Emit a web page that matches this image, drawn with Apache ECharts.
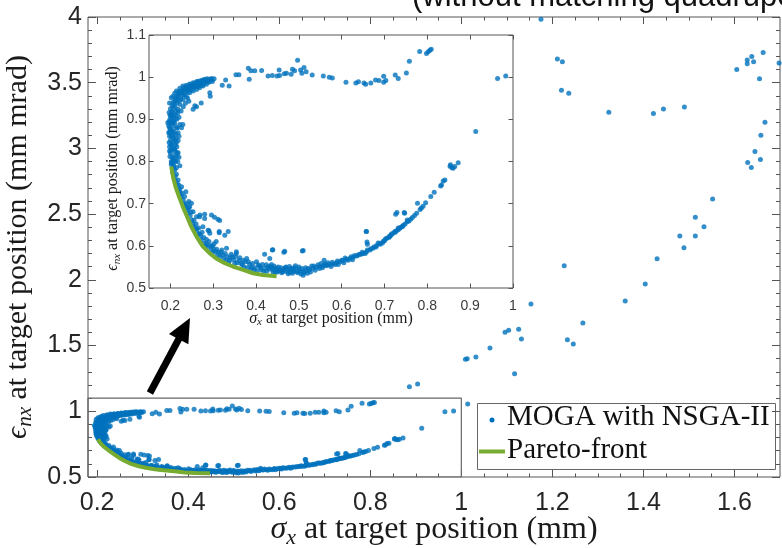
<!DOCTYPE html>
<html>
<head>
<meta charset="utf-8">
<script src="https://cdn.jsdelivr.net/npm/echarts@6/dist/echarts.min.js"></script>
<style>
  html, body { margin: 0; padding: 0; background: #fff; }
  #chart { width: 782px; height: 548px; }
</style>
</head>
<body>
<div id="chart"></div>
<script>
// ---- MOGA (NSGA-II) solutions: [sigma_x (mm), eps_nx (mm mrad)] ----
const mogaLeftArc = [
  [0.194,0.892],[0.197,0.916],[0.198,0.939],[0.202,0.951],[0.206,0.955],[0.210,0.962],[0.214,0.967],[0.222,0.974],[0.229,0.979],[0.237,0.981],[0.245,0.984],[0.253,0.987],[0.261,0.989],[0.268,0.991],[0.276,0.993],[0.284,0.994],[0.292,0.995],[0.302,0.996],
  [0.200,0.876],[0.202,0.860],[0.205,0.892],[0.208,0.908],[0.210,0.900],[0.214,0.920],[0.218,0.924],[0.222,0.936],[0.229,0.947],[0.237,0.955],[0.245,0.963],[0.253,0.967],[0.261,0.971],[0.268,0.975],[0.276,0.979],[0.284,0.983],
  [0.201,0.908],[0.204,0.932],[0.210,0.943],[0.218,0.955],[0.226,0.963],[0.233,0.970],[0.241,0.975],[0.249,0.979],[0.257,0.981],[0.265,0.983],
  [0.222,0.888],[0.226,0.880],[0.229,0.888],[0.218,0.868],[0.214,0.845],[0.210,0.829],[0.218,0.821],[0.206,0.805],[0.202,0.793],[0.197,0.845],[0.198,0.825],[0.198,0.860],[0.196,0.868],
  [0.257,0.932],[0.261,0.930],[0.272,0.939],[0.292,0.963],[0.293,0.955],[0.280,0.995],[0.296,0.993],[0.253,0.924],[0.243,0.943],
  [0.199,0.900],[0.200,0.925],[0.203,0.918],[0.206,0.940],[0.207,0.925],[0.212,0.950],[0.216,0.940],[0.220,0.960],[0.224,0.948],[0.228,0.968],[0.232,0.958],[0.236,0.972],[0.240,0.965],[0.244,0.977],[0.248,0.970],[0.252,0.980],[0.256,0.976],[0.260,0.985],[0.264,0.978],[0.270,0.986],[0.272,0.980],[0.280,0.988],[0.288,0.990],[0.296,0.997],
  [0.212,0.910],[0.215,0.900],[0.216,0.880],[0.220,0.905],[0.225,0.920],[0.230,0.930],[0.235,0.938],[0.240,0.950],
  [0.198,0.880],[0.199,0.910],[0.201,0.890],[0.202,0.870],[0.204,0.895],[0.205,0.915],[0.206,0.885],[0.208,0.895],[0.209,0.935],[0.211,0.930],[0.213,0.945],[0.215,0.955],[0.217,0.915],[0.219,0.965],[0.221,0.945],[0.223,0.967],
  [0.227,0.957],[0.231,0.975],[0.234,0.965],[0.238,0.977],[0.242,0.970],[0.246,0.982],[0.250,0.974],[0.255,0.985],[0.258,0.978],[0.263,0.990],[0.267,0.983],[0.273,0.992],[0.278,0.985],[0.286,0.996],[0.290,0.988],[0.298,0.990]
];
const mogaLeftColumn = [
  [0.196,0.885],[0.198,0.870],[0.200,0.850],[0.201,0.840],[0.203,0.830],[0.200,0.820],[0.204,0.810],[0.202,0.800],[0.206,0.795],[0.210,0.850],[0.212,0.840],[0.208,0.830],[0.215,0.835],[0.210,0.815],
  [0.214,0.810],[0.218,0.850],[0.220,0.860],[0.205,0.875],[0.210,0.890],[0.215,0.880],[0.212,0.865],[0.207,0.855],[0.197,0.895],[0.203,0.905],[0.198,0.835],[0.208,0.790],[0.205,0.845],[0.209,0.870],
  [0.199,0.812],[0.201,0.826],[0.204,0.838],[0.206,0.862],[0.211,0.825],[0.213,0.855],[0.216,0.820],[0.203,0.797],[0.209,0.803],[0.212,0.800],[0.217,0.800],[0.220,0.810],[0.222,0.790],[0.214,0.785]
];
const mogaLowerLeft = [
  [0.207,0.785],[0.211,0.765],[0.216,0.745],[0.223,0.722],[0.232,0.700],[0.241,0.677],[0.252,0.652],[0.264,0.630],[0.279,0.607],[0.295,0.590],[0.310,0.578],[0.330,0.566],[0.350,0.558],[0.372,0.550],[0.395,0.543],[0.418,0.539],[0.440,0.537],[0.460,0.536],
  [0.210,0.780],[0.218,0.756],[0.226,0.740],[0.233,0.717],[0.245,0.693],[0.261,0.669],[0.276,0.645],[0.292,0.630],[0.307,0.610],[0.331,0.594],[0.354,0.582],[0.378,0.570],[0.401,0.562],[0.424,0.555],[0.448,0.547],
  [0.214,0.770],[0.222,0.735],[0.236,0.690],[0.256,0.645],[0.270,0.625],[0.285,0.605],[0.300,0.595],[0.318,0.585],[0.340,0.572],[0.360,0.565],[0.385,0.556],[0.410,0.548],[0.430,0.545],[0.455,0.542],
  [0.298,0.600],[0.305,0.587],[0.322,0.578],[0.338,0.565],[0.345,0.574],[0.365,0.558],[0.375,0.562],[0.390,0.550],[0.405,0.555],[0.420,0.547],[0.435,0.550],[0.450,0.538],[0.465,0.545],[0.470,0.550],[0.480,0.545],[0.490,0.548],[0.500,0.550],[0.485,0.535],
  [0.236,0.728],[0.243,0.705],[0.249,0.701],[0.253,0.681],[0.268,0.669],[0.280,0.665],[0.296,0.673],[0.303,0.668],[0.311,0.663],[0.315,0.660],[0.290,0.636],[0.314,0.634],[0.335,0.634],[0.354,0.586],[0.420,0.580],[0.432,0.570],
  [0.269,0.673],[0.280,0.675],[0.288,0.637],[0.314,0.631],[0.327,0.625],[0.439,0.591],[0.467,0.587],[0.510,0.589],[0.657,0.634],[0.659,0.609],[0.729,0.679],[0.746,0.679],
  [0.205,0.775],[0.209,0.758],[0.213,0.752],[0.217,0.733],[0.219,0.745],[0.221,0.728],[0.225,0.715],[0.227,0.725],[0.230,0.708],[0.234,0.695],[0.238,0.700],[0.240,0.685],[0.243,0.690],[0.246,0.672],
  [0.248,0.680],[0.250,0.662],[0.255,0.660],[0.258,0.640],[0.260,0.652],[0.262,0.640],[0.266,0.642],[0.268,0.628],[0.272,0.615],[0.274,0.632],[0.278,0.620],[0.282,0.600],[0.284,0.615],[0.288,0.598],
  [0.290,0.610],[0.294,0.600],[0.300,0.585],[0.302,0.605],[0.308,0.592],[0.312,0.585],[0.316,0.575],[0.320,0.590],[0.325,0.570],[0.328,0.582],[0.333,0.575],[0.336,0.560],[0.342,0.580],[0.348,0.567],
  [0.352,0.575],[0.356,0.560],[0.362,0.572],[0.368,0.555],[0.370,0.566],[0.380,0.548],[0.382,0.562],[0.388,0.545],[0.392,0.558],[0.398,0.548],[0.402,0.540],[0.408,0.552],[0.412,0.543],[0.415,0.556],
  [0.425,0.540],[0.428,0.550],[0.438,0.543],[0.442,0.552],[0.458,0.548],[0.462,0.540]
];
const mogaBottomBand = [
  [0.432,0.551],[0.440,0.547],[0.448,0.543],[0.455,0.541],[0.463,0.539],[0.471,0.539],[0.479,0.537],[0.486,0.539],[0.494,0.539],[0.502,0.540],[0.510,0.540],[0.518,0.541],[0.525,0.543],[0.533,0.547],
  [0.541,0.549],[0.549,0.551],[0.557,0.552],[0.564,0.555],[0.572,0.556],[0.580,0.557],[0.588,0.560],[0.596,0.562],[0.603,0.565],[0.611,0.568],[0.619,0.570],[0.627,0.573],[0.635,0.576],[0.642,0.580],
  [0.650,0.582],[0.658,0.586],[0.666,0.590],[0.673,0.594],[0.681,0.600],[0.689,0.606],[0.697,0.611],[0.705,0.618],[0.712,0.623],[0.720,0.630],[0.728,0.636],[0.736,0.642],
  [0.436,0.556],[0.452,0.550],[0.468,0.548],[0.484,0.547],[0.500,0.545],[0.516,0.548],[0.530,0.552],[0.545,0.555],[0.560,0.557],[0.445,0.538],[0.475,0.534],[0.505,0.533],[0.520,0.535],
  [0.565,0.553],[0.585,0.556],[0.600,0.566],[0.615,0.566],[0.630,0.577],[0.645,0.580],[0.660,0.590],[0.675,0.597],[0.690,0.604],[0.700,0.612],[0.710,0.620],
  [0.438,0.590],[0.465,0.585],[0.508,0.588],[0.559,0.566],[0.658,0.634],[0.660,0.604],[0.510,0.530],
  [0.475,0.543],[0.478,0.551],[0.488,0.543],[0.492,0.553],[0.497,0.536],[0.508,0.546],[0.512,0.536],[0.522,0.546],[0.527,0.538],[0.535,0.552],[0.538,0.542],[0.548,0.546],[0.552,0.558],[0.555,0.548],
  [0.568,0.560],[0.575,0.551],[0.578,0.561],[0.590,0.564],[0.592,0.556],[0.605,0.560],[0.608,0.571],[0.622,0.574],[0.625,0.567],[0.638,0.578],[0.648,0.585],[0.655,0.582],[0.668,0.593],[0.680,0.597],
  [0.685,0.607],[0.695,0.607],[0.702,0.616],[0.715,0.625],[0.725,0.632],[0.732,0.642],[0.742,0.646],[0.748,0.652],[0.757,0.659],[0.765,0.667],[0.770,0.672],[0.783,0.686],[0.786,0.690]
];
const mogaRightRise = [
  [0.853,0.789],[0.857,0.786],[0.860,0.784],[0.864,0.788],[0.872,0.797],[0.837,0.754],[0.841,0.756],[0.833,0.744],[0.831,0.742],[0.816,0.727],[0.808,0.717],[0.796,0.702],[0.790,0.694],[0.777,0.701],
  [0.775,0.677],[0.761,0.663],[0.753,0.661],[0.753,0.657],[0.747,0.677],[0.726,0.675],[0.744,0.649],[0.740,0.645],[0.736,0.642],[0.732,0.638],[0.724,0.634],[0.716,0.628],[0.712,0.623],
  [0.854,0.792],[0.913,0.871]
];
const mogaTopBranch = [
  [0.321,0.981],[0.329,0.993],[0.337,0.979],[0.353,1.006],[0.360,1.006],[0.384,0.995],[0.382,1.021],[0.388,1.015],[0.397,1.015],[0.413,1.016],[0.428,1.003],
  [0.438,1.004],[0.449,1.003],[0.454,1.017],[0.455,1.004],[0.466,1.008],[0.471,1.009],[0.482,1.007],[0.485,1.019],[0.490,1.015],[0.497,1.040],[0.504,1.017],[0.507,1.009],[0.512,1.023],[0.517,1.013],
  [0.531,1.005],[0.557,1.003],[0.571,1.000],[0.578,0.998],[0.610,0.988],[0.633,0.986],[0.639,0.989],[0.652,0.986],[0.656,0.983],[0.668,0.986],[0.679,0.993],[0.687,0.992],[0.698,1.002],[0.698,0.988],
  [0.703,0.992],[0.725,1.005],[0.732,0.997],[0.751,1.010],[0.758,1.038],[0.782,1.061],[0.798,1.056],[0.802,1.060],[0.806,1.064],[0.809,1.066],[0.964,0.997],[0.983,1.003]
];
const mogaFarField = [
  [1.175,3.983],[1.211,3.680],[1.222,3.660],[1.220,3.443],[1.236,3.420],[1.324,3.275],[1.422,3.265],[1.444,3.300],[1.490,3.316],[1.605,3.600],[1.628,3.673],[1.628,3.645],[1.638,3.700],
  [1.642,3.660],[1.663,3.730],[1.655,3.530],[1.698,3.650],[1.667,3.200],[1.658,3.100],[1.645,2.976],[1.629,2.892],[1.637,2.854],[1.657,2.915],[1.552,2.616],[1.514,2.476],[1.533,2.405],
  [1.480,2.334],[1.514,2.334],[1.489,2.245],[1.430,2.161],[1.404,1.969],[1.360,1.839],[1.226,2.108],[1.267,1.672],[1.233,1.545],[1.246,1.512],[1.153,1.817],[1.126,1.624],[1.132,1.550],
  [1.104,1.616],[1.096,1.601],[1.063,1.482],[1.032,1.413],[1.013,1.400],[1.009,1.396],[1.117,1.286],[0.886,1.187],[0.904,1.208],[1.014,1.056]
];

// ---- Pareto front ----
const paretoFront = [
  [0.202,0.788],[0.206,0.764],[0.212,0.740],[0.220,0.717],[0.229,0.693],[0.239,0.669],[0.249,0.645],[0.261,0.622],[0.276,0.598],
  [0.292,0.582],[0.307,0.570],[0.327,0.559],[0.346,0.551],[0.370,0.543],[0.393,0.535],[0.416,0.531],[0.448,0.528]
];

// ---- axis limits and ticks ----
const mainXRange = [0.18, 1.7];
const mainYRange = [0.5, 4];
const mainXTicks = [0.2, 0.4, 0.6, 0.8, 1, 1.2, 1.4, 1.6];
const mainXMinor = [0.2,0.25,0.3,0.35,0.4,0.45,0.5,0.55,0.6,0.65,0.7,0.75,0.8,0.85,0.9,0.95,1,1.05,1.1,1.15,1.2,1.25,1.3,1.35,1.4,1.45,1.5,1.55,1.6,1.65];
const mainYTicks = [0.5, 1, 1.5, 2, 2.5, 3, 3.5, 4];
const mainYMinor = [0.6,0.7,0.8,0.9,1.1,1.2,1.3,1.4,1.6,1.7,1.8,1.9,2.1,2.2,2.3,2.4,2.6,2.7,2.8,2.9,3.1,3.2,3.3,3.4,3.6,3.7,3.8,3.9];
const insetXRange = [0.15, 1];
const insetYRange = [0.5, 1.1];
const insetXTicks = [0.2, 0.3, 0.4, 0.5, 0.6, 0.7, 0.8, 0.9, 1];
const insetYTicks = [0.5, 0.6, 0.7, 0.8, 0.9, 1, 1.1];

// zoomed region outlined on the main axes, and the arrow pointing to the inset
const zoomBoxX = [0.18, 1.0];
const zoomBoxY = [0.5, 1.1];
const arrowFrom = [0.316, 1.139];
const arrowTo = [0.404, 1.71];

const mogaAll = [].concat(mogaLeftArc, mogaLeftColumn, mogaLowerLeft, mogaBottomBand, mogaRightRise, mogaTopBranch, mogaFarField);

const BLUE = '#0072BD';
const GREEN = '#77AC30';
const AXIS = '#555555';
const SERIF = 'Liberation Serif';
const SANS = 'Liberation Sans';

// plot boxes (pixels)
const W = 782, H = 548;
const mainBox = { left: 88, top: 17, width: 692, height: 460 };
const insetBox = { left: 149, top: 35, width: 364, height: 253 };

const fmt = v => String(+(+v).toFixed(2));

function makeAxis(o) {
  return {
    type: 'value',
    gridIndex: o.grid,
    position: o.pos,
    min: o.range[0],
    max: o.range[1],
    silent: true,
    axisLine: { show: false, onZero: false },
    axisTick: { show: true, inside: true, length: o.len, customValues: o.ticks, lineStyle: { color: AXIS, width: 1 } },
    axisLabel: o.label ? Object.assign({ show: true, customValues: o.ticks, formatter: fmt }, o.label) : { show: false },
    splitLine: { show: false },
    minorTick: { show: false },
    name: o.name || '',
    nameLocation: 'middle',
    nameGap: o.nameGap || 0,
    nameRotate: o.nameRotate,
    nameMoveOverlap: o.nameMove !== undefined ? o.nameMove : true,
    nameTextStyle: o.nameStyle || {}
  };
}

function mathName(fontSize, subSize, lineH, pad) {
  return {
    color: '#1a1a1a',
    fontFamily: SERIF,
    fontSize: fontSize,
    padding: pad || 0,
    rich: {
      g: { fontFamily: SERIF, fontStyle: 'italic', fontSize: fontSize, lineHeight: lineH, color: '#1a1a1a' },
      s: { fontFamily: SERIF, fontStyle: 'italic', fontSize: subSize, lineHeight: subSize, verticalAlign: 'bottom', color: '#1a1a1a' },
      t: { fontFamily: SERIF, fontSize: fontSize, lineHeight: lineH, color: '#1a1a1a' }
    }
  };
}

function gridOf(box, extra) {
  return Object.assign({
    left: box.left, top: box.top,
    right: W - box.left - box.width, bottom: H - box.top - box.height,
    containLabel: false, outerBoundsMode: 'none',
    show: true, borderColor: AXIS, borderWidth: 1, backgroundColor: 'transparent'
  }, extra || {});
}

const mainLabel = { fontFamily: SANS, fontSize: 25, color: '#262626' };
const insetLabel = { fontFamily: SANS, fontSize: 14, color: '#3a3a3a' };

// arrow geometry through the main axes' linear scales
function toMainPixel(p) {
  return [
    mainBox.left + (p[0] - mainXRange[0]) / (mainXRange[1] - mainXRange[0]) * mainBox.width,
    mainBox.top + (mainYRange[1] - p[1]) / (mainYRange[1] - mainYRange[0]) * mainBox.height
  ];
}
const a0 = toMainPixel(arrowFrom), a1 = toMainPixel(arrowTo);
const adx = a1[0] - a0[0], ady = a1[1] - a0[1];
const alen = Math.sqrt(adx * adx + ady * ady);
const aux = adx / alen, auy = ady / alen;
const headL = 24, headW = 11;
const hbx = a1[0] - aux * headL, hby = a1[1] - auy * headL;

const option = {
  animation: false,
  backgroundColor: '#fff',
  grid: [
    gridOf(mainBox),
    gridOf(insetBox, { backgroundColor: '#fff' })
  ],
  xAxis: [
    makeAxis({ grid: 0, pos: 'bottom', range: mainXRange, ticks: mainXTicks, len: 7,
      label: Object.assign({ margin: 14 }, mainLabel),
      name: '{g|σ}{s|x}{t| at target position (mm)}', nameGap: 34, nameMove: false, nameStyle: mathName(32, 22, 38) }),
    makeAxis({ grid: 0, pos: 'top', range: mainXRange, ticks: mainXTicks, len: 7 }),
    makeAxis({ grid: 0, pos: 'bottom', range: mainXRange, ticks: mainXMinor, len: 3.5 }),
    makeAxis({ grid: 0, pos: 'top', range: mainXRange, ticks: mainXMinor, len: 3.5 }),
    makeAxis({ grid: 1, pos: 'bottom', range: insetXRange, ticks: insetXTicks, len: 4.5,
      label: Object.assign({ margin: 11 }, insetLabel),
      name: '{g|σ}{s|x}{t| at target position (mm)}', nameGap: 21, nameMove: false, nameStyle: mathName(16, 11, 19) }),
    makeAxis({ grid: 1, pos: 'top', range: insetXRange, ticks: insetXTicks, len: 4.5 })
  ],
  yAxis: [
    makeAxis({ grid: 0, pos: 'left', range: mainYRange, ticks: mainYTicks, len: 8,
      label: Object.assign({ margin: 6 }, mainLabel),
      name: '{g|ϵ}{s|nx}{t| at target position (mm mrad)}', nameGap: 45, nameRotate: 90, nameStyle: mathName(30, 21, 36) }),
    makeAxis({ grid: 0, pos: 'right', range: mainYRange, ticks: mainYTicks, len: 8 }),
    makeAxis({ grid: 0, pos: 'left', range: mainYRange, ticks: mainYMinor, len: 4 }),
    makeAxis({ grid: 0, pos: 'right', range: mainYRange, ticks: mainYMinor, len: 4 }),
    makeAxis({ grid: 1, pos: 'left', range: insetYRange, ticks: insetYTicks, len: 4.5,
      label: Object.assign({ margin: 3 }, insetLabel),
      name: '{g|ϵ}{s|nx}{t| at target position (mm mrad)}', nameGap: 23, nameRotate: 90, nameStyle: mathName(16, 11, 19, [0, 14, 0, 0]) }),
    makeAxis({ grid: 1, pos: 'right', range: insetYRange, ticks: insetYTicks, len: 4.5 })
  ],
  series: [
    {
      name: 'MOGA with NSGA-II', type: 'scatter', xAxisIndex: 0, yAxisIndex: 0,
      data: mogaAll, symbol: 'circle', symbolSize: 5, clip: true,
      itemStyle: { color: BLUE }, silent: true, z: 2
    },
    {
      name: 'Pareto-front', type: 'line', xAxisIndex: 0, yAxisIndex: 0,
      data: paretoFront, showSymbol: false, symbol: 'none', smooth: false,
      lineStyle: { color: GREEN, width: 4 }, silent: true, z: 3
    },
    {
      name: 'zoom region', type: 'line', xAxisIndex: 0, yAxisIndex: 0,
      data: [[zoomBoxX[0], zoomBoxY[0]], [zoomBoxX[1], zoomBoxY[0]], [zoomBoxX[1], zoomBoxY[1]], [zoomBoxX[0], zoomBoxY[1]], [zoomBoxX[0], zoomBoxY[0]]],
      showSymbol: false, symbol: 'none', lineStyle: { color: '#666', width: 1.2 }, silent: true, z: 1
    },
    {
      name: 'MOGA with NSGA-II (inset)', type: 'scatter', xAxisIndex: 4, yAxisIndex: 4,
      data: mogaAll, symbol: 'circle', symbolSize: 5, clip: true,
      itemStyle: { color: BLUE }, silent: true, z: 6
    },
    {
      name: 'Pareto-front (inset)', type: 'line', xAxisIndex: 4, yAxisIndex: 4,
      data: paretoFront, showSymbol: false, symbol: 'none',
      lineStyle: { color: GREEN, width: 4 }, silent: true, z: 7
    }
  ],
  graphic: [
    {
      type: 'text', id: 'title', x: 412, y: -3, silent: true,
      style: { text: '(without matching quadrupoles)', fontSize: 31, fontFamily: SANS, fill: '#111', verticalAlign: 'middle', textVerticalAlign: 'middle' }
    },
    {
      type: 'group', id: 'legend', silent: true,
      children: [
        { type: 'rect', shape: { x: 477.5, y: 403.5, width: 298, height: 66 }, style: { fill: '#fff', stroke: '#666', lineWidth: 1 } },
        { type: 'circle', shape: { cx: 492, cy: 420, r: 2.5 }, style: { fill: BLUE } },
        { type: 'line', shape: { x1: 479, y1: 451.5, x2: 505, y2: 451.5 }, style: { stroke: GREEN, lineWidth: 4 } },
        { type: 'text', x: 507, y: 417, style: { text: 'MOGA with NSGA-II', fontSize: 29, fontFamily: SERIF, fill: '#111', verticalAlign: 'middle', textVerticalAlign: 'middle' } },
        { type: 'text', x: 507, y: 450.5, style: { text: 'Pareto-front', fontSize: 29, fontFamily: SERIF, fill: '#111', verticalAlign: 'middle', textVerticalAlign: 'middle' } }
      ]
    },
    {
      type: 'group', id: 'arrow', silent: true, z: 10,
      children: [
        { type: 'line', shape: { x1: a0[0], y1: a0[1], x2: hbx + aux * 4, y2: hby + auy * 4 }, style: { stroke: '#000', lineWidth: 7 } },
        { type: 'polygon', shape: { points: [[a1[0], a1[1]], [hbx - auy * headW, hby + aux * headW], [hbx + auy * headW, hby - aux * headW]] }, style: { fill: '#000' } }
      ]
    }
  ]
};

const chart = echarts.init(document.getElementById('chart'), null, { renderer: 'canvas' });
chart.setOption(option);
</script>
</body>
</html>
